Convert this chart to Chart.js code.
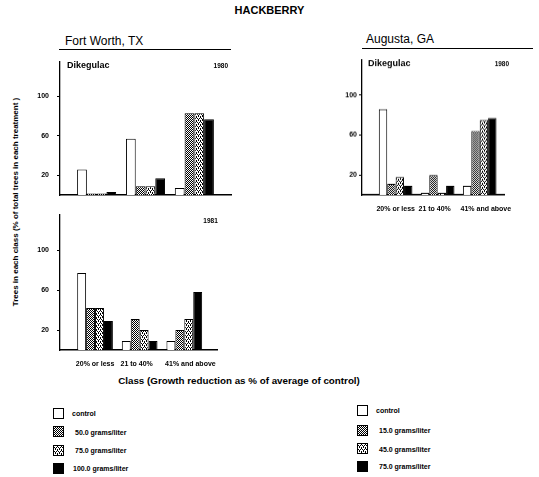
<!DOCTYPE html>
<html>
<head>
<meta charset="utf-8">
<script src="https://cdn.jsdelivr.net/npm/chart.js@4.4.1/dist/chart.umd.min.js"></script>
<style>
  body { margin: 0; background: #fff; width: 539px; height: 477px; position: relative; overflow: hidden;
         font-family: "Liberation Sans", Arial, sans-serif; color: #000; }
  .abs { position: absolute; white-space: nowrap; }
  canvas.panel { position: absolute; }
  .rule { position: absolute; height: 1.4px; background: #000; }
  .leg { position: absolute; font-size: 7px; font-weight: bold; white-space: nowrap; }
  .leg canvas { position: absolute; left: 0; top: 0; }
  .leg span { position: absolute; top: 50%; transform: translateY(-50%); }
</style>
</head>
<body>
<div class="abs" style="left:0;width:539px;top:4px;text-align:center;font-weight:bold;font-size:11px;">HACKBERRY</div>

<div class="abs" style="left:65px;top:34px;font-size:12px;">Fort Worth, TX</div>
<div class="rule" style="left:59px;top:49px;width:172px;"></div>
<div class="abs" style="left:366px;top:32px;font-size:12px;">Augusta, GA</div>
<div class="rule" style="left:362px;top:47.5px;width:171px;"></div>

<div class="abs" style="left:15px;top:202px;transform:translate(-50%,-50%) rotate(-90deg);font-size:8px;font-weight:bold;">Trees in each class (% of total trees in each treatment )</div>
<div class="abs" style="left:239px;top:380px;transform:translate(-50%,-50%);font-size:9.8px;font-weight:bold;">Class (Growth reduction as % of average of control)</div>

<canvas id="fw1980" class="panel"></canvas>
<canvas id="aug1980" class="panel"></canvas>
<canvas id="fw1981" class="panel"></canvas>

<div id="legLeft"></div>
<div id="legRight"></div>

<script>
// categories and values (% of trees in each class)
const categories = ['20% or less', '21 to 40%', '41% and above'];
const yTicks = [20, 60, 100];

const fw1980Control = [26, 57, 7];
const fw1980Low     = [1.5, 9, 83];
const fw1980Mid     = [1.5, 9, 83];
const fw1980High    = [3, 17, 77];

const aug1980Control = [86, 2, 9];
const aug1980Low     = [11, 20, 64];
const aug1980Mid     = [18, 2, 75];
const aug1980High    = [9, 9, 77];

const fw1981Control = [77, 9, 9];
const fw1981Low     = [42, 31, 20];
const fw1981Mid     = [42, 20, 31];
const fw1981High    = [29, 9, 58];

const fwDoses  = ['control', '50.0 grams/liter', '75.0 grams/liter', '100.0 grams/liter'];
const augDoses = ['control', '15.0 grams/liter', '45.0 grams/liter', '75.0 grams/liter'];

const FONT = '"Liberation Sans", Arial, sans-serif';
const GROUP = 0.8; // share of a category taken by its four bars

function makePattern(kind) {
  if (kind === 'white') return '#fff';
  if (kind === 'black') return '#000';
  const c = document.createElement('canvas');
  c.width = 4; c.height = 4;
  const x = c.getContext('2d');
  x.fillStyle = '#fff';
  x.fillRect(0, 0, 4, 4);
  x.fillStyle = '#000';
  if (kind === 'diag') {
    // dense diagonal hatch
    for (let i = 0; i < 4; i++) { x.fillRect(i, 3 - i, 1, 1); x.fillRect((i + 2) % 4, 3 - i, 1, 1); }
  } else {
    // lighter stipple
    x.fillRect(0, 0, 1, 1); x.fillRect(2, 0, 1, 1);
    x.fillRect(1, 2, 1, 1); x.fillRect(3, 2, 1, 1);
    x.fillRect(0, 1, 1, 1); x.fillRect(2, 3, 1, 1);
  }
  return x.createPattern(c, 'repeat');
}

const fills = ['white', 'diag', 'dots', 'black'];

const panelText = {
  id: 'panelText',
  afterDraw(chart, args, o) {
    const { ctx, chartArea: a } = chart;
    ctx.save();
    ctx.fillStyle = '#000';
    ctx.textBaseline = 'middle';
    if (o.drug) {
      ctx.font = 'bold 9px ' + FONT;
      ctx.textAlign = 'left';
      ctx.fillText(o.drug, a.left + o.drugDx, a.top + o.dy);
    }
    ctx.font = 'bold 6.5px ' + FONT;
    ctx.textAlign = 'right';
    ctx.fillText(o.year, a.right + o.yearDx, a.top + o.dy);
    ctx.restore();
  }
};

function makePanel(id, box, series, o) {
  const cv = document.getElementById(id);
  const padL = 40, padT = 14, padR = 10, axisH = 20;
  const w = box.right - box.left + padL + padR;
  const h = box.bottom - box.top + padT + axisH;
  cv.width = w; cv.height = h;
  cv.style.left = (box.left - padL) + 'px';
  cv.style.top = (box.top - padT) + 'px';
  cv.style.width = w + 'px';
  cv.style.height = h + 'px';
  const unitPx = (box.right - box.left) / (o.xmax - o.xmin);

  const datasets = series.map((vals, k) => ({
    label: k,
    data: vals.map((v, i) => ({ x: i + 1, y: v })),
    backgroundColor: makePattern(fills[k]),
    borderColor: '#000',
    borderWidth: 1,
    categoryPercentage: GROUP,
    barPercentage: 1.0
  }));

  new Chart(cv, {
    type: 'bar',
    data: { datasets },
    plugins: [panelText],
    options: {
      responsive: false,
      animation: false,
      layout: { padding: { top: padT, right: padR, left: 0, bottom: 0 } },
      plugins: {
        legend: { display: false },
        tooltip: { enabled: false },
        panelText: o.text
      },
      scales: {
        x: {
          type: 'linear',
          offset: false,
          min: o.xmin, max: o.xmax,
          grid: { display: false },
          border: { display: true, color: '#000', width: 1.5 },
          afterBuildTicks: s => { s.ticks = categories.map((c, i) => ({ value: i + 1 })); },
          afterFit: s => { s.height = axisH; },
          ticks: {
            display: o.showX,
            autoSkip: false,
            align: 'start',
            labelOffset: -unitPx * GROUP / 2,
            padding: 2,
            maxRotation: 0,
            color: '#000',
            font: { family: FONT, size: 7, weight: 'bold' },
            callback: (v) => categories[Math.round(v) - 1]
          }
        },
        y: {
          min: 0, max: 135,
          grid: { display: true, drawOnChartArea: false, drawTicks: true, tickLength: 3, color: '#000' },
          border: { display: true, color: '#000', width: 1.3 },
          afterBuildTicks: s => { s.ticks = yTicks.map(v => ({ value: v })); },
          afterFit: s => { s.width = padL; },
          ticks: {
            padding: o.yPad,
            color: '#000',
            font: { family: FONT, size: 7, weight: 'bold' }
          }
        }
      }
    }
  });
}

makePanel('fw1980', { left: 60, top: 62, right: 231, bottom: 195 },
  [fw1980Control, fw1980Low, fw1980Mid, fw1980High],
  { xmin: 0.25, xmax: 3.75, showX: false, yPad: 8,
    text: { drug: 'Dikegulac', year: '1980', drugDx: 7, yearDx: -3, dy: 4 } });

makePanel('aug1980', { left: 362, top: 60, right: 524, bottom: 194.5 },
  [aug1980Control, aug1980Low, aug1980Mid, aug1980High],
  { xmin: 0.2, xmax: 3.58, showX: true, yPad: 2,
    text: { drug: 'Dikegulac', year: '1980', drugDx: 6, yearDx: 5, dy: 4 } });

makePanel('fw1981', { left: 59.5, top: 215, right: 229, bottom: 350 },
  [fw1981Control, fw1981Low, fw1981Mid, fw1981High],
  { xmin: 0.215, xmax: 3.75, showX: true, yPad: 8,
    text: { drug: '', year: '1981', drugDx: 0, yearDx: 0, dy: 6 } });

function makeLegend(id, labels, left, textLeft, rows) {
  const host = document.getElementById(id);
  labels.forEach((lab, k) => {
    const d = document.createElement('div');
    d.className = 'leg';
    d.style.left = left + 'px';
    d.style.top = (rows[k] - 5.5) + 'px';
    d.style.height = '11px';
    const c = document.createElement('canvas');
    c.width = 11; c.height = 11;
    const x = c.getContext('2d');
    x.fillStyle = makePattern(fills[k]);
    x.fillRect(0.5, 0.5, 10, 10);
    x.strokeStyle = '#000';
    x.lineWidth = 1;
    x.strokeRect(0.5, 0.5, 10, 10);
    d.appendChild(c);
    const s = document.createElement('span');
    s.textContent = lab;
    s.style.left = (textLeft[k] - left) + 'px';
    d.appendChild(s);
    host.appendChild(d);
  });
}

makeLegend('legLeft', fwDoses, 53, [72, 75, 75, 73], [413, 431.5, 450, 468]);
makeLegend('legRight', augDoses, 357, [376, 379, 379, 379], [410, 430, 448.5, 466]);
</script>
</body>
</html>
